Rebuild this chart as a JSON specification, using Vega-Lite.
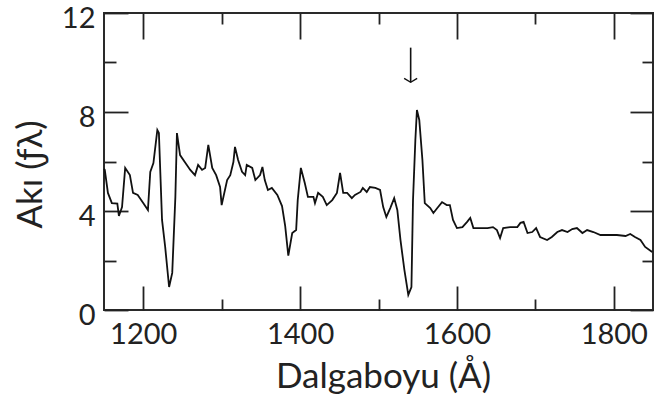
{
  "$schema": "https://vega.github.io/schema/vega-lite/v6.json",
  "width": 549,
  "height": 297,
  "autosize": {"type": "none"},
  "padding": {"left": 104, "top": 13, "right": 3, "bottom": 95},
  "background": "white",
  "config": {
    "view": {"stroke": "#2a2a2a", "strokeWidth": 2},
    "font": "Lato",
    "axis": {
      "labelFont": "Lato",
      "titleFont": "Lato",
      "labelFontSize": 29,
      "titleFontSize": 35,
      "titleFontWeight": "normal",
      "labelColor": "#222",
      "titleColor": "#222",
      "domain": false,
      "ticks": true,
      "tickColor": "#222",
      "tickOpacity": 1,
      "tickWidth": 1.8,
      "grid": false
    }
  },
  "datasets": {
    "spectrum": [
      {"lam": 1150, "flux": 5.7}, {"lam": 1151, "flux": 5.66}, {"lam": 1155, "flux": 4.73},
      {"lam": 1160, "flux": 4.32}, {"lam": 1167, "flux": 4.3}, {"lam": 1169, "flux": 3.8},
      {"lam": 1173, "flux": 4.16}, {"lam": 1177, "flux": 5.74}, {"lam": 1183, "flux": 5.45},
      {"lam": 1187, "flux": 4.73}, {"lam": 1193, "flux": 4.65}, {"lam": 1200, "flux": 4.32},
      {"lam": 1206, "flux": 4.04}, {"lam": 1209, "flux": 5.58}, {"lam": 1213, "flux": 5.94},
      {"lam": 1218, "flux": 7.27}, {"lam": 1220, "flux": 7.15}, {"lam": 1224, "flux": 3.64},
      {"lam": 1228, "flux": 2.55}, {"lam": 1233, "flux": 0.93}, {"lam": 1237, "flux": 1.5},
      {"lam": 1241, "flux": 4.57}, {"lam": 1243, "flux": 7.15}, {"lam": 1247, "flux": 6.26},
      {"lam": 1253, "flux": 5.98}, {"lam": 1260, "flux": 5.66}, {"lam": 1266, "flux": 5.45},
      {"lam": 1270, "flux": 5.86}, {"lam": 1275, "flux": 5.66}, {"lam": 1279, "flux": 5.74},
      {"lam": 1283, "flux": 6.67}, {"lam": 1288, "flux": 5.74}, {"lam": 1293, "flux": 5.45},
      {"lam": 1298, "flux": 4.97}, {"lam": 1300, "flux": 4.24}, {"lam": 1307, "flux": 5.25},
      {"lam": 1311, "flux": 5.45}, {"lam": 1315, "flux": 5.98}, {"lam": 1317, "flux": 6.59},
      {"lam": 1321, "flux": 6.06}, {"lam": 1326, "flux": 5.58}, {"lam": 1330, "flux": 5.45},
      {"lam": 1332, "flux": 5.86}, {"lam": 1339, "flux": 5.74}, {"lam": 1343, "flux": 5.25},
      {"lam": 1349, "flux": 5.45}, {"lam": 1352, "flux": 5.78}, {"lam": 1355, "flux": 5.25},
      {"lam": 1359, "flux": 4.85}, {"lam": 1364, "flux": 4.93}, {"lam": 1371, "flux": 4.65},
      {"lam": 1377, "flux": 4.2}, {"lam": 1381, "flux": 3.4}, {"lam": 1385, "flux": 2.2},
      {"lam": 1390, "flux": 3.11}, {"lam": 1395, "flux": 3.23}, {"lam": 1397, "flux": 4.44},
      {"lam": 1401, "flux": 5.74}, {"lam": 1406, "flux": 5.13}, {"lam": 1410, "flux": 4.57},
      {"lam": 1417, "flux": 4.57}, {"lam": 1419, "flux": 4.32}, {"lam": 1423, "flux": 4.73},
      {"lam": 1429, "flux": 4.57}, {"lam": 1434, "flux": 4.24}, {"lam": 1441, "flux": 4.44},
      {"lam": 1447, "flux": 4.73}, {"lam": 1451, "flux": 5.54}, {"lam": 1455, "flux": 4.73},
      {"lam": 1460, "flux": 4.73}, {"lam": 1466, "flux": 4.52}, {"lam": 1470, "flux": 4.65},
      {"lam": 1477, "flux": 4.77}, {"lam": 1480, "flux": 4.93}, {"lam": 1485, "flux": 4.77},
      {"lam": 1489, "flux": 4.97}, {"lam": 1496, "flux": 4.93}, {"lam": 1502, "flux": 4.85},
      {"lam": 1506, "flux": 4.16}, {"lam": 1510, "flux": 3.76}, {"lam": 1515, "flux": 4.12},
      {"lam": 1520, "flux": 4.52}, {"lam": 1524, "flux": 4.04}, {"lam": 1528, "flux": 2.83},
      {"lam": 1533, "flux": 1.62}, {"lam": 1538, "flux": 0.61}, {"lam": 1542, "flux": 0.93},
      {"lam": 1544, "flux": 4.44}, {"lam": 1547, "flux": 6.87}, {"lam": 1549, "flux": 8.08},
      {"lam": 1552, "flux": 7.68}, {"lam": 1556, "flux": 6.06}, {"lam": 1559, "flux": 4.32},
      {"lam": 1566, "flux": 4.12}, {"lam": 1570, "flux": 3.92}, {"lam": 1575, "flux": 4.12},
      {"lam": 1581, "flux": 4.36}, {"lam": 1587, "flux": 4.24}, {"lam": 1591, "flux": 4.24},
      {"lam": 1595, "flux": 3.64}, {"lam": 1600, "flux": 3.31}, {"lam": 1607, "flux": 3.35},
      {"lam": 1613, "flux": 3.56}, {"lam": 1617, "flux": 3.72}, {"lam": 1621, "flux": 3.31},
      {"lam": 1630, "flux": 3.31}, {"lam": 1639, "flux": 3.31}, {"lam": 1646, "flux": 3.35},
      {"lam": 1651, "flux": 3.23}, {"lam": 1655, "flux": 2.91}, {"lam": 1659, "flux": 3.31},
      {"lam": 1668, "flux": 3.35}, {"lam": 1677, "flux": 3.35}, {"lam": 1681, "flux": 3.52},
      {"lam": 1685, "flux": 3.56}, {"lam": 1690, "flux": 3.11}, {"lam": 1696, "flux": 3.15},
      {"lam": 1701, "flux": 3.31}, {"lam": 1706, "flux": 2.95}, {"lam": 1715, "flux": 2.83},
      {"lam": 1721, "flux": 2.95}, {"lam": 1728, "flux": 3.15}, {"lam": 1734, "flux": 3.23},
      {"lam": 1741, "flux": 3.15}, {"lam": 1747, "flux": 3.27}, {"lam": 1753, "flux": 3.31},
      {"lam": 1760, "flux": 3.11}, {"lam": 1766, "flux": 3.23}, {"lam": 1774, "flux": 3.15},
      {"lam": 1783, "flux": 3.03}, {"lam": 1792, "flux": 3.03}, {"lam": 1804, "flux": 3.03},
      {"lam": 1815, "flux": 2.99}, {"lam": 1821, "flux": 3.07}, {"lam": 1827, "flux": 2.95},
      {"lam": 1834, "flux": 2.83}, {"lam": 1840, "flux": 2.55}, {"lam": 1849, "flux": 2.34}
    ],
    "marker": [
      {"lam": 1541, "top": 10.6, "tip": 9.2}
    ]
  },
  "layer": [
    {
      "data": {"name": "spectrum"},
      "mark": {"type": "line", "color": "#111", "strokeWidth": 1.8, "interpolate": "linear"},
      "encoding": {
        "x": {
          "field": "lam", "type": "quantitative",
          "scale": {"domain": [1150, 1850], "nice": false, "zero": false},
          "axis": {
            "orient": "bottom",
            "title": "Dalgaboyu (Å)",
            "format": "d",
            "values": [1200, 1400, 1600, 1800],
            "offset": -24,
            "tickSize": 24,
            "labelPadding": 10,
            "labelFlush": false,
            "titleX": 279, "titleY": 101,
            "titleAnchor": null,
            "titleAlign": "center", "titleBaseline": "alphabetic"
          }
        },
        "y": {
          "field": "flux", "type": "quantitative",
          "scale": {"domain": [0, 12], "nice": false, "zero": false},
          "axis": {
            "orient": "left",
            "title": "Akı (ƒλ)",
            "format": "d",
            "values": [0, 4, 8, 12],
            "offset": -24,
            "tickSize": 24,
            "labelPadding": 9,
            "labelOffset": 5,
            "labelFlush": false,
            "titleX": -98, "titleY": 161,
            "titleAngle": -90,
            "titleAlign": "center", "titleBaseline": "middle"
          }
        }
      }
    },
    {
      "data": {"name": "marker"},
      "mark": {"type": "rule", "color": "#111", "strokeWidth": 1.6},
      "encoding": {
        "x": {
          "field": "lam", "type": "quantitative",
          "scale": {"domain": [1150, 1850], "nice": false, "zero": false},
          "axis": {
            "orient": "top", "title": null, "labels": false,
            "values": [1200, 1400, 1600, 1800],
            "offset": -26,
            "tickSize": 26
          }
        },
        "y": {
          "field": "top", "type": "quantitative",
          "scale": {"domain": [0, 12], "nice": false, "zero": false},
          "axis": {
            "orient": "right", "title": null, "labels": false,
            "values": [0, 4, 8, 12],
            "offset": -23,
            "tickSize": 23
          }
        },
        "y2": {"field": "tip"}
      }
    },
    {
      "data": {"name": "marker"},
      "mark": {
        "type": "point", "shape": "M-1,-0.6L0,0L1,-0.6", "filled": false,
        "size": 169, "stroke": "#111", "strokeWidth": 1.4, "opacity": 1
      },
      "encoding": {
        "x": {
          "field": "lam", "type": "quantitative",
          "scale": {"domain": [1150, 1850], "nice": false, "zero": false},
          "axis": {
            "orient": "bottom", "title": null, "labels": false,
            "values": [1300, 1500, 1700],
            "offset": -11,
            "tickSize": 11
          }
        },
        "y": {
          "field": "tip", "type": "quantitative",
          "scale": {"domain": [0, 12], "nice": false, "zero": false},
          "axis": {
            "orient": "left", "title": null, "labels": false,
            "values": [2, 6, 10],
            "offset": -12,
            "tickSize": 12
          }
        }
      }
    },
    {
      "data": {"name": "marker"},
      "mark": {"type": "point", "opacity": 0, "size": 1},
      "encoding": {
        "x": {
          "field": "lam", "type": "quantitative",
          "scale": {"domain": [1150, 1850], "nice": false, "zero": false},
          "axis": {
            "orient": "top", "title": null, "labels": false,
            "values": [1300, 1500, 1700],
            "offset": -11,
            "tickSize": 11
          }
        },
        "y": {
          "field": "tip", "type": "quantitative",
          "scale": {"domain": [0, 12], "nice": false, "zero": false},
          "axis": {
            "orient": "right", "title": null, "labels": false,
            "values": [2, 6, 10],
            "offset": -11,
            "tickSize": 11
          }
        }
      }
    }
  ],
  "resolve": {"axis": {"x": "independent", "y": "independent"}}
}
